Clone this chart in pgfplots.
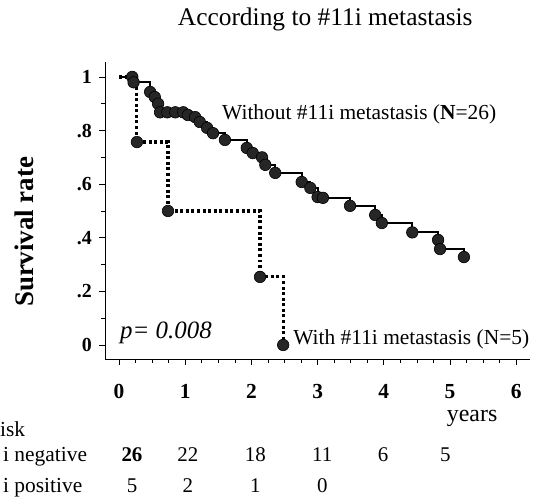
\documentclass[border=0pt]{standalone}
\usepackage{fontspec}
\setmainfont{Liberation Serif}
\usepackage{pgfplots}
\pgfplotsset{compat=1.18}
\definecolor{mk}{gray}{0.15}
\tikzset{
  atrisk/.style={anchor=base, inner sep=0pt, font=\fontsize{21}{24}\selectfont},
  txt/.style={anchor=base west, inner sep=0pt, font=\fontsize{21.5}{24}\selectfont},
}
\begin{document}
\begin{tikzpicture}
\begin{axis}[
  scale only axis, width=425bp, height=297bp,
  xmin=-0.21, xmax=6.21, ymin=-0.052, ymax=1.056,
  axis x line=bottom, axis y line=left,
  axis line style={-, line width=0.8pt},
  xtick={0,1,2,3,4,5,6},
  ytick={0,0.2,0.4,0.6,0.8,1},
  yticklabels={0,.2,.4,.6,.8,1},
  minor x tick num=3, minor y tick num=1,
  tick align=outside,
  major tick length=6bp, minor tick length=4bp,
  every tick/.style={black, line width=0.7pt},
  /pgf/number format/assume math mode=true,
  xticklabel style={anchor=base, yshift=-34bp, font=\fontsize{21.5}{24}\selectfont\bfseries},
  yticklabel style={anchor=east, inner sep=0pt, xshift=-7bp, font=\fontsize{20}{22}\selectfont\bfseries},
  ylabel={Survival rate},
  ylabel style={at={(axis description cs:-0.169,0.428)}, anchor=base, font=\fontsize{27}{30}\selectfont\bfseries, inner sep=0pt},
  title={According to \#11i metastasis},
  title style={at={(axis description cs:0.518,1.101)}, anchor=base, font=\fontsize{25.5}{28}\selectfont, inner sep=0pt},
  clip=false,
]
\addplot[const plot, black, line width=2.2pt, mark=*, mark size=5.8pt,
  mark options={fill=mk, draw=black, line width=0.6pt}, mark indices={2,...,40}]
  coordinates {
  (0.00,1.000) (0.20,1.000) (0.22,0.980) (0.47,0.944) (0.54,0.925)
  (0.59,0.900) (0.62,0.868) (0.73,0.868) (0.85,0.868) (0.97,0.868)
  (1.04,0.858) (1.15,0.850) (1.22,0.832) (1.33,0.810) (1.42,0.790)
  (1.60,0.765) (1.93,0.735) (2.02,0.716) (2.16,0.700) (2.21,0.672)
  (2.36,0.642) (2.76,0.608) (2.89,0.586) (3.00,0.552) (3.08,0.549)
  (3.49,0.519) (3.87,0.485) (3.97,0.455) (4.43,0.420) (4.82,0.392)
  (4.85,0.358) (5.21,0.328)
  };
\addplot[const plot, black, line width=3.2pt, dash pattern=on 3pt off 2.6pt,
  mark=*, mark size=5.8pt, mark options={solid, fill=mk, draw=black, line width=0.6pt},
  mark indices={2,3,4,5}]
  coordinates {
  (0.00,1.000) (0.27,0.757) (0.74,0.500) (2.13,0.254) (2.48,0.000)
  };
\node[txt] at (axis cs:1.556,0.84) {Without \#11i metastasis (\textbf{N}=26)};
\node[txt] at (axis cs:2.63,0.0) {With \#11i metastasis (N=5)};
\node[anchor=base west, inner sep=0pt, font=\fontsize{25}{28}\selectfont\itshape]
  at (axis cs:0.015,0.026) {p= 0.008};
\node[anchor=base west, inner sep=0pt, font=\fontsize{24}{27}\selectfont]
  at (axis cs:4.95,-0.287) {years};
\node[txt] at (axis cs:-1.798,-0.343) {isk};
\node[txt] at (axis cs:-1.753,-0.436) {i negative};
\node[txt] at (axis cs:-1.753,-0.552) {i positive};
% numbers at risk
\node[atrisk, font=\fontsize{21}{24}\selectfont\bfseries] at (axis cs:0.196,-0.436) {26};
\node[atrisk] at (axis cs:1.04,-0.436) {22};
\node[atrisk] at (axis cs:2.06,-0.436) {18};
\node[atrisk] at (axis cs:3.07,-0.436) {11};
\node[atrisk] at (axis cs:3.99,-0.436) {6};
\node[atrisk] at (axis cs:4.93,-0.436) {5};
\node[atrisk] at (axis cs:0.196,-0.552) {5};
\node[atrisk] at (axis cs:1.04,-0.552) {2};
\node[atrisk] at (axis cs:2.06,-0.552) {1};
\node[atrisk] at (axis cs:3.07,-0.552) {0};
\coordinate (bl) at (axis cs:-1.798,-0.593);
\coordinate (tr) at (axis cs:6.284,1.287);
\end{axis}
\pgfresetboundingbox
\useasboundingbox (bl) rectangle (tr);
\end{tikzpicture}
\end{document}
